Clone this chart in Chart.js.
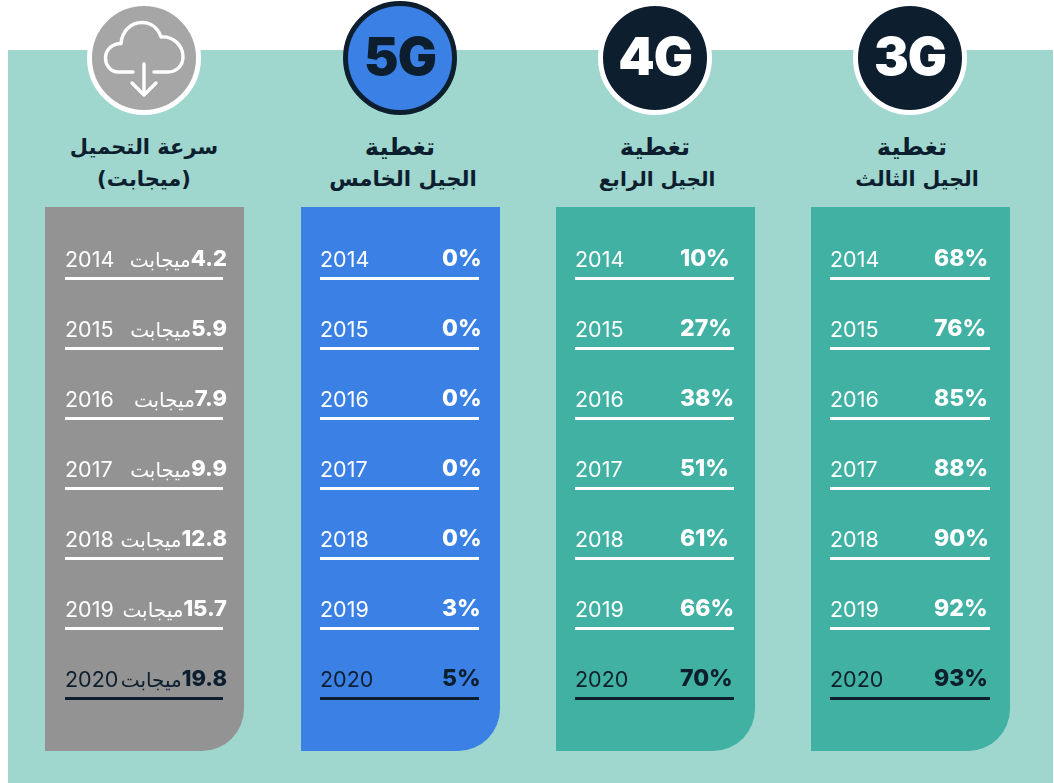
<!DOCTYPE html>
<html lang="ar">
<head>
<meta charset="utf-8">
<title>تغطية الأجيال وسرعة التحميل</title>
<script src="https://cdn.jsdelivr.net/npm/chart.js@4"></script>
<style>
  html, body { margin: 0; padding: 0; background: #fff; }
  body { position: relative; width: 1054px; height: 783px; overflow: hidden; font-family: Inter, "DejaVu Sans", sans-serif; }
  #band { position: absolute; left: 8px; top: 50px; width: 1045px; height: 733px; background: #9fd7cf; }
  .panel { position: absolute; top: 207px; width: 199px; height: 544px; border-bottom-right-radius: 42px; }
  .panel canvas { position: absolute; left: 0; top: 0; }
  .badge { position: absolute; top: 1px; width: 114px; height: 114px; margin-left: -57px; border-radius: 50%; box-sizing: border-box;
    border: 5px solid #fff; text-align: center; font-weight: 900; font-size: 52px; line-height: 102px; letter-spacing: -1px; }
  .badge svg { position: absolute; left: -5px; top: -5px; }
  .head { position: absolute; top: 131px; width: 220px; margin-left: -110px; text-align: center; direction: rtl;
    font: bold 21px/32px "DejaVu Sans", sans-serif; color: #0d1e2f; }
  .head span { display: block; position: relative; white-space: nowrap; }
</style>
</head>
<body>
<div id="band"></div>

<div class="badge" style="left:144px;background:#a6a6a6">
  <svg width="114" height="114" viewBox="0 0 114 114" fill="none" stroke="#fff" stroke-width="3.4" stroke-linecap="round" stroke-linejoin="round">
    <path d="M46 71 H31 C23.5 71 18.5 64 18.5 57 C18.5 49 25 42.5 34 42.5 C35 30 44 21.5 55 21.5 C64 21.5 71 27 74 36 C86 35 96 44 96 56 C96 65 89 71 81 71 H67"/>
    <path d="M57 63 V94 M45 82 L57 94 L69 82"/>
  </svg>
</div>
<div class="badge" style="left:400px;background:#3b80e4;border-color:#0d1e2f;color:#0d1e2f">5G</div>
<div class="badge" style="left:655px;background:#0d1e2f;color:#fff">4G</div>
<div class="badge" style="left:910px;background:#0d1e2f;color:#fff">3G</div>

<div class="head" style="left:144px"><span>سرعة التحميل</span><span>(ميجابت)</span></div>
<div class="head" style="left:400px"><span style="font-size:24px">تغطية</span><span style="font-size:21.3px;left:3px">الجيل الخامس</span></div>
<div class="head" style="left:656px"><span style="font-size:24px;left:-1px">تغطية</span><span style="font-size:20px;left:1px">الجيل الرابع</span></div>
<div class="head" style="left:911px"><span style="font-size:24px;left:1px">تغطية</span><span style="font-size:20.5px;left:6px">الجيل الثالث</span></div>

<div class="panel" style="left:45px;background:#939393"><canvas id="speed" width="199" height="544"></canvas></div>
<div class="panel" style="left:301px;background:#3b80e4"><canvas id="five" width="199" height="544"></canvas></div>
<div class="panel" style="left:556px;background:#40b1a2"><canvas id="four" width="199" height="544"></canvas></div>
<div class="panel" style="left:811px;background:#40b1a2"><canvas id="three" width="199" height="544"></canvas></div>

<script>
const years = ['2014', '2015', '2016', '2017', '2018', '2019', '2020'];
const speedMbps = [4.2, 5.9, 7.9, 9.9, 12.8, 15.7, 19.8];
const coverage5g = [0, 0, 0, 0, 0, 3, 5];
const coverage4g = [10, 27, 38, 51, 61, 66, 70];
const coverage3g = [68, 76, 85, 88, 90, 92, 93];
const speedUnit = 'ميجابت';

const dark = '#0d1e2f';
const fontFamily = 'Inter, "DejaVu Sans", sans-serif';

function rowColor(i) {
  return i === years.length - 1 ? dark : '#fff';
}

// writes the value above each rule, at the row position of the hidden points
const valueLabels = {
  id: 'valueLabels',
  afterDatasetsDraw(chart, args, opts) {
    const ctx = chart.ctx;
    const pts = chart.getDatasetMeta(0).data;
    const values = chart.data.datasets[0].data;
    ctx.save();
    ctx.textBaseline = 'middle';
    pts.forEach((pt, i) => {
      const y = pt.y - 19;
      ctx.fillStyle = rowColor(i);
      if (opts.unit) {
        const x = chart.chartArea.right + 4;
        const num = values[i].x.toFixed(1);
        ctx.font = '800 22px ' + fontFamily;
        ctx.textAlign = 'right';
        ctx.fillText(num, x, y);
        const w = ctx.measureText(num).width;
        ctx.font = '20px ' + fontFamily;
        ctx.fillText(opts.unit, x - w, y + 2);
      } else {
        ctx.font = '800 23px ' + fontFamily;
        ctx.textAlign = 'left';
        ctx.fillText(values[i].x + '%', chart.chartArea.left + opts.valueX, y);
      }
    });
    ctx.restore();
  }
};

function makePanel(id, values, labelOpts, padLeft, padRight) {
  new Chart(document.getElementById(id), {
    type: 'line',
    data: {
      labels: years,
      datasets: [{ data: values.map((v, i) => ({ x: v, y: years[i] })), showLine: false, pointRadius: 0 }]
    },
    options: {
      indexAxis: 'y',
      responsive: false,
      animation: false,
      devicePixelRatio: 1,
      layout: { padding: { left: padLeft, right: padRight, top: 71, bottom: 53 } },
      plugins: { legend: { display: false }, tooltip: { enabled: false }, valueLabels: labelOpts },
      scales: {
        x: { display: false, min: 0 },
        y: {
          type: 'category',
          border: { display: false },
          grid: {
            drawTicks: false,
            lineWidth: 3,
            color: (c) => rowColor(c.index)
          },
          ticks: {
            mirror: true,
            padding: 0,
            autoSkip: false,
            labelOffset: -17,
            color: (c) => rowColor(c.index),
            font: { family: fontFamily, size: 21.5 }
          }
        }
      }
    },
    plugins: [valueLabels]
  });
}

makePanel('speed', speedMbps, { unit: speedUnit }, 20, 21);
makePanel('five', coverage5g, { valueX: 122 }, 19, 21);
makePanel('four', coverage4g, { valueX: 105 }, 19, 21);
makePanel('three', coverage3g, { valueX: 104 }, 19, 20);
</script>
</body>
</html>
